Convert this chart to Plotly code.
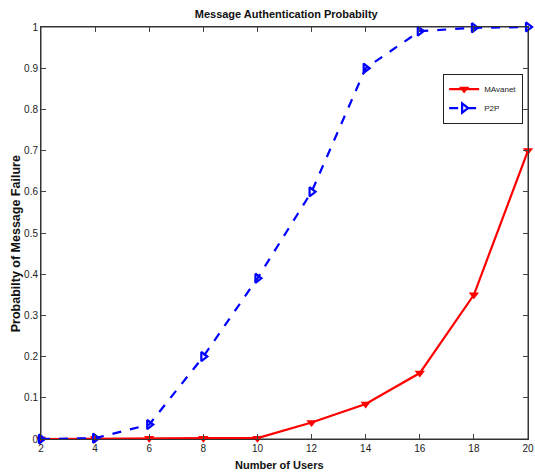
import plotly.graph_objects as go

users = [2, 4, 6, 8, 10, 12, 14, 16, 18, 20]
mavanet = [0.0, 0.001, 0.002, 0.002, 0.002, 0.04, 0.085, 0.16, 0.35, 0.70]
p2p = [0.0, 0.002, 0.035, 0.2, 0.39, 0.6, 0.9, 0.99, 0.998, 1.0]

x_ticks = [2, 4, 6, 8, 10, 12, 14, 16, 18, 20]
y_ticks = [0, 0.1, 0.2, 0.3, 0.4, 0.5, 0.6, 0.7, 0.8, 0.9, 1]
y_labels = ["0", "0.1", "0.2", "0.3", "0.4", "0.5", "0.6", "0.7", "0.8", "0.9", "1"]

FONT = "Liberation Sans Narrow, Arial Narrow, Liberation Sans, Arial"

fig = go.Figure()
fig.add_trace(go.Scatter(
    x=users, y=mavanet, name="MAvanet", mode="lines+markers",
    line=dict(color="#ff0000", width=2.2),
    marker=dict(symbol="triangle-down", size=9, color="#ff0000"),
    cliponaxis=False,
))
fig.add_trace(go.Scatter(
    x=users, y=p2p, name="P2P", mode="lines+markers",
    line=dict(color="#0000ff", width=2.2, dash="dash"),
    marker=dict(symbol="triangle-right-open", size=8, color="#0000ff",
                line=dict(width=2.2, color="#0000ff")),
    cliponaxis=False,
))

fig.update_layout(
    width=535, height=474,
    margin=dict(l=41, r=7, t=27, b=35, autoexpand=False),
    paper_bgcolor="white", plot_bgcolor="white",
    font=dict(family=FONT, size=10, color="#222"),
    title=dict(text="<b>Message Authentication Probabilty</b>", x=0.535, xanchor="center",
               y=0.97, yanchor="middle", font=dict(size=11, color="#111", family=FONT)),
    showlegend=True,
    legend=dict(x=0.99, y=0.887, xanchor="right", yanchor="top",
                bordercolor="#222", borderwidth=1, bgcolor="white",
                font=dict(size=8, family=FONT), itemwidth=30,
                tracegroupgap=0),
    shapes=[dict(type="rect", xref="paper", yref="paper", x0=0, x1=1, y0=0, y1=1,
                 line=dict(color="#333", width=1), layer="below")],
    annotations=[
        dict(text="<b>Number of Users</b>", xref="paper", yref="paper",
             x=0.49, y=-0.063, xanchor="center", yanchor="middle", showarrow=False,
             font=dict(size=11, color="#111", family=FONT)),
        dict(text="<b>Probabilty of Message Failure</b>", xref="paper", yref="paper",
             x=-0.051, y=0.473, xanchor="center", yanchor="middle", showarrow=False,
             textangle=-90, font=dict(size=12.5, color="#111", family=FONT)),
    ],
)
fig.update_xaxes(
    range=[2, 20], tickvals=x_ticks, ticks="inside", ticklen=5, tickcolor="#444",
    showline=True, linecolor="#333", linewidth=1, mirror="ticks", showgrid=False,
    zeroline=False, automargin=False, ticklabeloverflow="allow",
)
fig.update_yaxes(
    range=[0, 1], tickvals=y_ticks, ticktext=y_labels, ticks="inside", ticklen=5,
    tickcolor="#444", showline=True, linecolor="#333", linewidth=1, mirror="ticks",
    showgrid=False, zeroline=False, automargin=False, ticklabeloverflow="allow",
)

fig.write_html(
    "out.html",
    config={"displayModeBar": False},
    post_script="document.body.style.margin='0';document.body.style.overflow='hidden';",
)
